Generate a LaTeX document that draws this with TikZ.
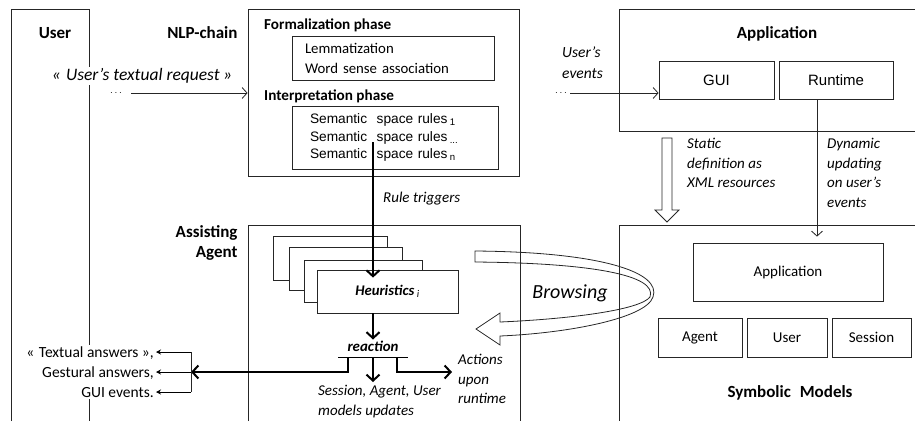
\documentclass[tikz,border=0pt]{standalone}
\usepackage{fontspec}
\setmainfont{Carlito}
\newfontfamily\arialfont{Liberation Sans}
\usetikzlibrary{arrows.meta}

\tikzset{
  frame/.style={draw=black!85, line width=0.8pt},
  box/.style={frame, inner sep=0pt},
  head/.style={font=\fontsize{17}{20}\selectfont\bfseries},
  phase/.style={font=\fontsize{15.2}{18}\selectfont\bfseries, anchor=west, inner sep=0pt},
  lbl/.style={font=\fontsize{15}{19.7}\selectfont\itshape, align=left, inner sep=0pt},
  arr/.style={draw=black!85, line width=0.8pt, -{Straight Barb[length=5pt,width=11pt]}},
  bigarr/.style={line width=2pt, -{Straight Barb[length=6pt,width=13pt]}},
  small/.style={line width=0.8pt, -{Stealth[length=5pt,width=5pt]}},
  dotsnode/.style={inner sep=0pt, font=\fontsize{10}{10}\selectfont},
}

\begin{document}
\begin{tikzpicture}[x=1pt, y=-1pt]
\useasboundingbox (0,0) rectangle (915,421);

% open frames
\draw[frame] (11,421) -- (11,9) -- (89,9) -- (89,421);
\draw[frame] (248,421) -- (248,225) -- (520,225) -- (520,421);
\draw[frame] (915,9) -| (619,131) -- (915,131);
\draw[frame] (915,225) -| (619,421);

\node[head] (user) at (55,33) {User};
\node[head, anchor=east] (nlpt) at (241,33) {NLP-chain};
\node[head, anchor=east, align=right] (agt) at (241,243) {Assisting\\Agent};
\node[head] (appt) at (777,34) {Application};
\node[head] (symt) at (790,393) {Symbolic\hspace{.3em} Models};

% NLP chain
\node[box, minimum width=271pt, minimum height=167pt] (nlp) at (383.5,92.5) {};
\node[phase] (form) at (264,25) {Formalization phase};
\node[box, minimum width=202pt, minimum height=44pt, text width=176pt, inner xsep=13pt,
  align=left, font=\fontsize{14.8}{20}\selectfont] (lem) at (393,58)
  {Lemmatization\\Word sense association};
\node[phase] (interp) at (264,96) {Interpretation phase};
\node[box, minimum width=206pt, minimum height=63pt, text width=188pt, inner xsep=9pt,
  align=left, font=\arialfont\fontsize{13.7}{17.5}\selectfont] (rules) at (395,137.5)
  {\hspace{9pt}Semantic\hspace{.7em}space rules\,\textsubscript{1}\\
   \hspace{9pt}Semantic\hspace{.7em}space rules\,\textsubscript{...}\\
   \hspace{9pt}Semantic\hspace{.7em}space rules\,\textsubscript{n}};

% application
\node[box, minimum width=115pt, minimum height=38pt, font=\arialfont\fontsize{15}{16}\selectfont] (gui) at (716.5,80) {GUI};
\node[box, minimum width=114pt, minimum height=38pt, font=\arialfont\fontsize{15}{16}\selectfont] (runtime) at (836,80) {Runtime};

% symbolic models
\node[box, minimum width=190pt, minimum height=58pt, font=\fontsize{15}{16}\selectfont] (appm) at (788,272) {Application};
\node[box, minimum width=84pt, minimum height=39pt, font=\fontsize{15}{16}\selectfont] (agm) at (700,337.5) {Agent};
\node[box, minimum width=80pt, minimum height=39pt, font=\fontsize{15}{16}\selectfont] (usm) at (787,337.5) {User};
\node[box, minimum width=79pt, minimum height=39pt, font=\fontsize{15}{16}\selectfont] (sem) at (871.5,337.5) {Session};

% heuristics stack
\foreach \a/\b/\c/\d in {273/236/387/280, 289/247/402/290, 304/260/422/302}
  \draw[frame, fill=white] (\a,\b) rectangle (\c,\d);
\node[box, fill=white, minimum width=141pt, minimum height=43pt,
  font=\fontsize{14.7}{16}\selectfont] (heur) at (387.5,291.5)
  {\textbf{\textit{Heuristics}}\,\textsubscript{\textit{i}}};

% user side texts
\node[font=\fontsize{17.5}{20}\selectfont\itshape, fill=white, inner xsep=3pt, inner ysep=2pt] (req) at (142,76)
  {«\hspace{.3em}User's textual request\hspace{.2em}»};
\node[dotsnode] (dots) at (116,93) {$\cdots$};
\draw[arr] ([xshift=9pt]dots.east) -- (nlp.west |- dots.east);

\node[font=\fontsize{15.5}{20}\selectfont, align=right, fill=white, inner sep=2pt, anchor=east]
  (ans) at (156,372) {«\hspace{.3em}Textual answers »,\\Gestural answers,\\GUI events.};

\node[lbl, anchor=west, font=\fontsize{15.5}{21}\selectfont\itshape] (ev) at (562,63) {User's\\events};
\node[dotsnode] (dots2) at (561,93) {$\cdots$};
\draw[arr] ([xshift=3pt]dots2.east) -- (gui.west |- dots2.east);

% trigger
\coordinate (trig) at (373,142);
\draw[bigarr] (trig) -- ([yshift=-8pt]trig |- heur.north);
\node[lbl, anchor=west] (rt) at (383,199) {Rule triggers};

% reaction
\node[font=\fontsize{14.9}{16}\selectfont\bfseries\itshape, inner sep=1pt] (react) at (373,346) {reaction};
\draw[bigarr] (heur.south -| react) -- (react.north);
\coordinate (barL) at (338,357);
\coordinate (barR) at (408,357);
\draw[line width=1pt] (barL) -- (barR);
\coordinate (outL) at (348,357);
\coordinate (outR) at (397,357);
\coordinate (brk) at (191,372);

\node[lbl, anchor=north west] (act) at (458,354) {Actions\\upon\\runtime};
\node[lbl, anchor=north west] (upd) at (318,385) {Session, Agent, User\\models updates};

\draw[bigarr] (outL) |- (brk);
\draw[bigarr] (outR) |- ([xshift=-6pt]act.west |- brk);
\draw[bigarr] (react |- barL) -- ([yshift=3pt]react |- upd.north);

% answers bracket
\draw[frame] ([yshift=20pt]brk) -- ([yshift=-20pt]brk);
\foreach \dy in {20,0,-20}
  \draw[small] ([yshift=\dy pt]brk) -- ([yshift=\dy pt]brk -| ans.east);

% static / dynamic
\draw[frame, fill=white] (662,138) -- (662,210) -- (655,210) -- (667,222) -- (679,210)
  -- (672,210) -- (672,138) -- cycle;
\node[lbl, anchor=north west] (stat) at (687,138) {Static\\definition as\\XML resources};
\node[lbl, anchor=north west] (dyn) at (827,138) {Dynamic\\updating\\on user's\\events};
\draw[arr, shorten >=6pt] ([xshift=-19pt]runtime.south) -- ([xshift=-19pt]runtime.south |- appm.north);

% browsing
\draw[frame] (475,251) .. controls (600,252) and (662,272) .. (653,297)
  .. controls (646,318) and (570,333) .. (500,336) -- (500,345) -- (476,329)
  -- (500,313) -- (500,322) .. controls (570,319) and (640,310) .. (650,297)
  .. controls (658,275) and (590,263) .. (475,262) -- cycle;
\node[font=\fontsize{20}{22}\selectfont\itshape] (brw) at (570,293) {Browsing};
\end{tikzpicture}
\end{document}
